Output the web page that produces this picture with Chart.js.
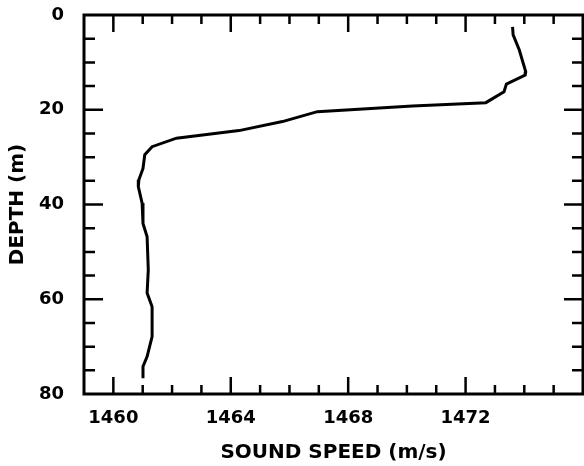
<!DOCTYPE html>
<html>
<head>
<meta charset="utf-8">
<script src="https://cdn.jsdelivr.net/npm/chart.js@4.4.0/dist/chart.umd.min.js"></script>
<style>
  body { margin: 0; background: #fff; }
  #wrap { width: 584px; height: 466px; position: relative; }
</style>
</head>
<body>
<div id="wrap"><canvas id="grafico"></canvas></div>
<script>
const soundSpeed = [1473.60, 1473.62, 1473.83, 1474.05, 1474.03, 1473.39, 1473.31, 1472.69, 1470.19, 1466.95,
                    1465.76, 1464.28, 1462.15, 1461.32, 1461.07, 1461.01, 1460.87, 1460.85, 1460.98, 1461.01,
                    1461.15, 1461.19, 1461.15, 1461.32, 1461.32, 1461.15, 1461.01, 1461.01];
const depth = [2.5, 4.2, 7.4, 12.0, 12.7, 14.6, 16.2, 18.5, 19.2, 20.4,
               22.5, 24.4, 26.0, 27.8, 29.5, 32.4, 34.8, 36.2, 39.7, 44.0,
               46.8, 53.8, 58.7, 61.6, 67.9, 72.1, 74.2, 76.7];

const xTickLabels = [1460, 1464, 1468, 1472];
const yTickLabels = [0, 20, 40, 60, 80];

const points = soundSpeed.map((v, i) => ({ x: v, y: depth[i] }));

// desenha a moldura e os traços de escala voltados para dentro
const frameTicks = {
    id: 'frameTicks',
    afterDraw(chart) {
        const ctx = chart.ctx;
        const area = chart.chartArea;
        const xs = chart.scales.x;
        const ys = chart.scales.y;
        ctx.save();
        ctx.strokeStyle = '#000';
        ctx.lineWidth = 2.5;
        ctx.beginPath();
        for (let v = 1460; v <= 1475; v++) {
            const px = xs.getPixelForValue(v);
            const len = v % 4 === 0 ? 17 : 9;
            ctx.moveTo(px, area.bottom);
            ctx.lineTo(px, area.bottom - len);
            ctx.moveTo(px, area.top);
            ctx.lineTo(px, area.top + len);
        }
        for (let d = 5; d <= 75; d += 5) {
            const py = ys.getPixelForValue(d);
            const len = d % 20 === 0 ? 19 : 11;
            ctx.moveTo(area.left, py);
            ctx.lineTo(area.left + len, py);
            ctx.moveTo(area.right, py);
            ctx.lineTo(area.right - len, py);
        }
        ctx.stroke();
        ctx.lineWidth = 3;
        ctx.strokeRect(area.left, area.top, area.right - area.left, area.bottom - area.top);
        ctx.restore();
    }
};

Chart.defaults.color = '#000';
Chart.defaults.font.family = '"DejaVu Sans", sans-serif';

new Chart(document.getElementById('grafico'), {
    type: 'scatter',
    data: {
        datasets: [{
            data: points,
            showLine: true,
            borderColor: '#000',
            borderWidth: 3,
            pointRadius: 0,
            tension: 0
        }]
    },
    options: {
        responsive: true,
        maintainAspectRatio: false,
        animation: false,
        layout: {
            padding: { top: 15, right: 1, bottom: 0, left: 0 }
        },
        plugins: {
            legend: { display: false },
            tooltip: { enabled: false }
        },
        scales: {
            x: {
                type: 'linear',
                position: 'bottom',
                min: 1459,
                max: 1476,
                grid: { display: false },
                border: { display: false },
                afterFit: function(scale) {
                    scale.height = 72;
                    scale.paddingLeft = 0;
                    scale.paddingRight = 0;
                },
                ticks: {
                    stepSize: 1,
                    autoSkip: false,
                    maxRotation: 0,
                    padding: 6,
                    font: { size: 18, weight: 'bold' },
                    callback: function(value) {
                        return xTickLabels.includes(value) ? String(value) : '';
                    }
                },
                title: {
                    display: true,
                    text: 'SOUND SPEED (m/s)',
                    font: { size: 20, weight: 'bold' },
                    padding: { top: 0, bottom: 1 }
                }
            },
            y: {
                type: 'linear',
                reverse: true,
                min: 0,
                max: 80,
                grid: { display: false },
                border: { display: false },
                afterFit: function(scale) {
                    scale.width = 84;
                    scale.paddingTop = 0;
                    scale.paddingBottom = 0;
                },
                ticks: {
                    stepSize: 5,
                    autoSkip: false,
                    padding: 12,
                    font: { size: 18, weight: 'bold' },
                    callback: function(value) {
                        return yTickLabels.includes(value) ? String(value) : '';
                    }
                },
                title: {
                    display: true,
                    text: 'DEPTH (m)',
                    font: { size: 20, weight: 'bold' },
                    padding: { top: 6, bottom: 0 }
                }
            }
        }
    },
    plugins: [frameTicks]
});
</script>
</body>
</html>
